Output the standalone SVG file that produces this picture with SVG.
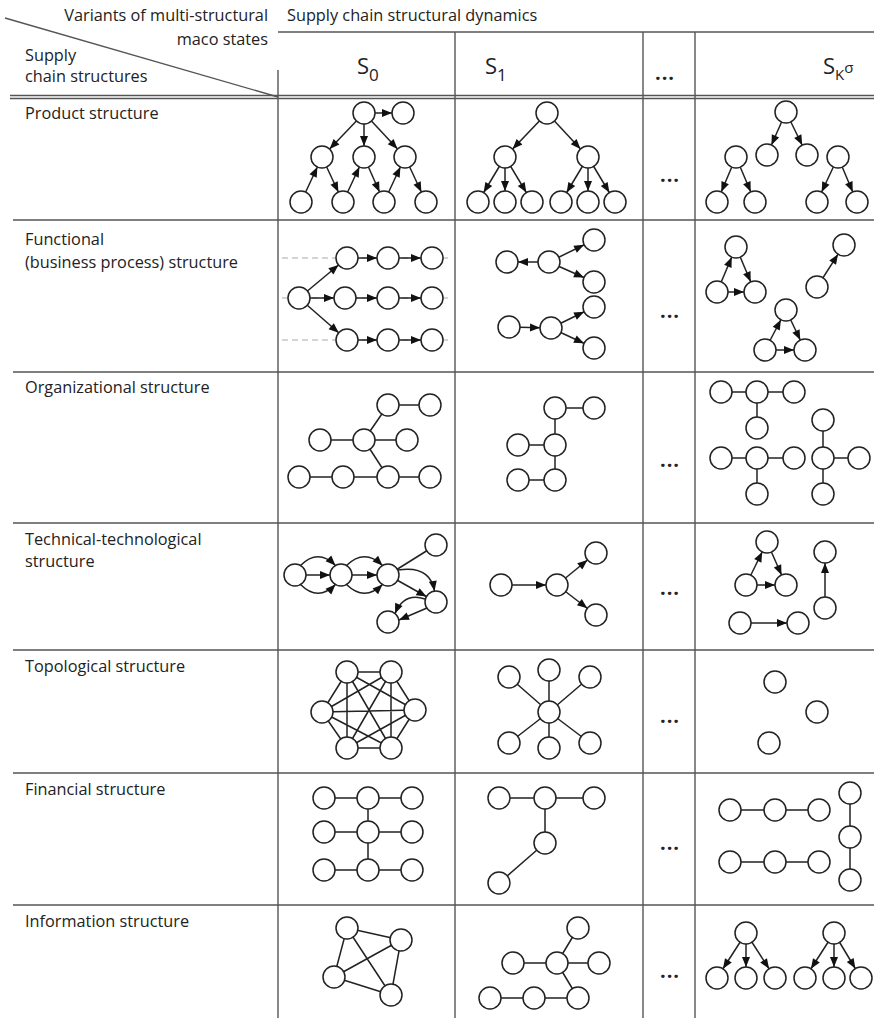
<svg xmlns="http://www.w3.org/2000/svg" width="874" height="1018" viewBox="0 0 874 1018">
<style>
.t{font-family:"Open Sans","Noto Sans",sans-serif;font-size:16.3px;fill:#222}
.s{font-family:"Open Sans","Noto Sans",sans-serif;font-size:22px;fill:#222}
.d{font-family:"Open Sans","Noto Sans",sans-serif;font-size:20px;font-weight:bold;fill:#222;letter-spacing:1px}
.g{stroke:#555;stroke-width:1.4;fill:none}
.e{stroke:#222;stroke-width:1.5;fill:none}
.a{marker-end:url(#an)}
.h{marker-end:url(#ah)}
.dash{stroke:#aaa;stroke-width:1.2;stroke-dasharray:6 4}
circle{fill:#fff;stroke:#222;stroke-width:1.5}
</style>
<defs>
<marker id="an" markerUnits="userSpaceOnUse" markerWidth="11" markerHeight="9" refX="21" refY="4" orient="auto" overflow="visible"><path d="M0,0 L10,4 L0,8 z" fill="#111"/></marker>
<marker id="ah" markerUnits="userSpaceOnUse" markerWidth="11" markerHeight="9" refX="10" refY="4" orient="auto" overflow="visible"><path d="M0,0 L10,4 L0,8 z" fill="#111"/></marker>
</defs>
<rect width="874" height="1018" fill="#fff"/>
<g id="table">
<line class="g" x1="278" y1="32" x2="874" y2="32"/>
<line class="g" x1="278" y1="70" x2="278" y2="1018"/>
<line class="g" x1="455" y1="32" x2="455" y2="1018"/>
<line class="g" x1="643" y1="32" x2="643" y2="1018"/>
<line class="g" x1="695" y1="32" x2="695" y2="1018"/>
<line class="g" x1="5" y1="18" x2="278" y2="97"/>
<line class="g" x1="10" y1="95.5" x2="874" y2="95.5"/>
<line class="g" x1="10" y1="98.5" x2="874" y2="98.5"/>
<line class="g" x1="13" y1="220" x2="874" y2="220"/>
<line class="g" x1="13" y1="372" x2="874" y2="372"/>
<line class="g" x1="13" y1="523" x2="874" y2="523"/>
<line class="g" x1="13" y1="650" x2="874" y2="650"/>
<line class="g" x1="13" y1="773" x2="874" y2="773"/>
<line class="g" x1="13" y1="905" x2="874" y2="905"/>
</g>
<g id="header">
<text class="t" x="268" y="21" text-anchor="end">Variants of multi-structural</text>
<text class="t" x="268" y="45" text-anchor="end">maco states</text>
<text class="t" x="25" y="61">Supply</text>
<text class="t" x="25" y="82">chain structures</text>
<text class="t" x="287" y="21">Supply chain structural dynamics</text>
<text class="s" x="357" y="74">S<tspan dy="7" font-size="17">0</tspan></text>
<text class="s" x="485" y="74">S<tspan dy="7" font-size="17">1</tspan></text>
<text class="d" x="665" y="80" text-anchor="middle">...</text>
<text class="s" x="823" y="74">S<tspan dy="6" font-size="15">K</tspan><tspan dy="-7" font-size="15">σ</tspan></text>
</g>
<g id="labels">
<text class="t" x="25" y="119">Product structure</text>
<text class="t" x="25" y="245">Functional</text>
<text class="t" x="25" y="268">(business process) structure</text>
<text class="t" x="25" y="393">Organizational structure</text>
<text class="t" x="25" y="545">Technical-technological</text>
<text class="t" x="25" y="567">structure</text>
<text class="t" x="25" y="672">Topological structure</text>
<text class="t" x="25" y="795">Financial structure</text>
<text class="t" x="25" y="927">Information structure</text>
</g>
<g id="dots">
<text class="d" x="670" y="182" text-anchor="middle">...</text>
<text class="d" x="670" y="318" text-anchor="middle">...</text>
<text class="d" x="670" y="467" text-anchor="middle">...</text>
<text class="d" x="670" y="595" text-anchor="middle">...</text>
<text class="d" x="670" y="723" text-anchor="middle">...</text>
<text class="d" x="670" y="850" text-anchor="middle">...</text>
<text class="d" x="670" y="978" text-anchor="middle">...</text>
</g>
<g id="connectors">
<g id="c-product">
<line class="e a" x1="364" y1="113" x2="403" y2="113"/>
<line class="e a" x1="364" y1="113" x2="322" y2="157"/>
<line class="e a" x1="364" y1="113" x2="364" y2="157"/>
<line class="e a" x1="364" y1="113" x2="405" y2="157"/>
<line class="e a" x1="301" y1="202" x2="322" y2="157"/>
<line class="e a" x1="322" y1="157" x2="343" y2="202"/>
<line class="e a" x1="343" y1="202" x2="364" y2="157"/>
<line class="e a" x1="364" y1="157" x2="384" y2="202"/>
<line class="e a" x1="384" y1="202" x2="405" y2="157"/>
<line class="e a" x1="405" y1="157" x2="426" y2="202"/>
<line class="e a" x1="547" y1="113" x2="505" y2="157"/>
<line class="e a" x1="547" y1="113" x2="588" y2="157"/>
<line class="e a" x1="505" y1="157" x2="478" y2="202"/>
<line class="e a" x1="505" y1="157" x2="505" y2="202"/>
<line class="e a" x1="505" y1="157" x2="532" y2="202"/>
<line class="e a" x1="588" y1="157" x2="561" y2="202"/>
<line class="e a" x1="588" y1="157" x2="588" y2="202"/>
<line class="e a" x1="588" y1="157" x2="615" y2="202"/>
<line class="e a" x1="786" y1="112" x2="767" y2="155"/>
<line class="e a" x1="786" y1="112" x2="807" y2="155"/>
<line class="e a" x1="736" y1="157" x2="717" y2="202"/>
<line class="e a" x1="736" y1="157" x2="755" y2="202"/>
<line class="e a" x1="838" y1="157" x2="817" y2="202"/>
<line class="e a" x1="838" y1="157" x2="857" y2="202"/>
</g>
<g id="c-functional">
<line class="dash" x1="282" y1="258" x2="452" y2="258"/>
<line class="dash" x1="282" y1="298" x2="452" y2="298"/>
<line class="dash" x1="282" y1="340" x2="452" y2="340"/>
<line class="e a" x1="299" y1="298" x2="347" y2="258"/>
<line class="e a" x1="299" y1="298" x2="345" y2="298"/>
<line class="e a" x1="299" y1="298" x2="347" y2="340"/>
<line class="e a" x1="347" y1="258" x2="388" y2="258"/>
<line class="e a" x1="388" y1="258" x2="432" y2="258"/>
<line class="e a" x1="345" y1="298" x2="388" y2="298"/>
<line class="e a" x1="388" y1="298" x2="432" y2="298"/>
<line class="e a" x1="347" y1="340" x2="388" y2="340"/>
<line class="e a" x1="388" y1="340" x2="432" y2="340"/>
<line class="e a" x1="549" y1="262" x2="507" y2="262"/>
<line class="e a" x1="549" y1="262" x2="594" y2="240"/>
<line class="e a" x1="549" y1="262" x2="594" y2="282"/>
<line class="e a" x1="509" y1="327" x2="551" y2="328"/>
<line class="e a" x1="551" y1="328" x2="594" y2="307"/>
<line class="e a" x1="551" y1="328" x2="594" y2="348"/>
<line class="e a" x1="717" y1="292" x2="736" y2="247"/>
<line class="e a" x1="736" y1="247" x2="755" y2="292"/>
<line class="e a" x1="717" y1="292" x2="755" y2="292"/>
<line class="e a" x1="817" y1="287" x2="844" y2="245"/>
<line class="e a" x1="765" y1="350" x2="786" y2="310"/>
<line class="e a" x1="786" y1="310" x2="805" y2="350"/>
<line class="e a" x1="765" y1="350" x2="805" y2="350"/>
</g>
<g id="c-organizational">
<line class="e" x1="388" y1="405" x2="430" y2="405"/>
<line class="e" x1="388" y1="405" x2="364" y2="440"/>
<line class="e" x1="320" y1="440" x2="407" y2="440"/>
<line class="e" x1="364" y1="440" x2="388" y2="477"/>
<line class="e" x1="299" y1="477" x2="430" y2="477"/>
<line class="e" x1="555" y1="408" x2="594" y2="408"/>
<line class="e" x1="555" y1="408" x2="555" y2="480"/>
<line class="e" x1="518" y1="445" x2="555" y2="445"/>
<line class="e" x1="518" y1="480" x2="555" y2="480"/>
<line class="e" x1="721" y1="392" x2="794" y2="392"/>
<line class="e" x1="757" y1="392" x2="757" y2="428"/>
<line class="e" x1="721" y1="458" x2="794" y2="458"/>
<line class="e" x1="757" y1="458" x2="757" y2="494"/>
<line class="e" x1="823" y1="420" x2="823" y2="494"/>
<line class="e" x1="823" y1="458" x2="859" y2="458"/>
</g>
<g id="c-technical">
<line class="e a" x1="295" y1="575" x2="341" y2="575"/>
<path class="e h" d="M300.5,565.5 Q318,548 335.5,565.5"/>
<path class="e h" d="M300.5,584.5 Q318,602 335.5,584.5"/>
<line class="e a" x1="341" y1="575" x2="388" y2="575"/>
<path class="e h" d="M346.5,565.5 Q364.5,548 382.5,565.5"/>
<path class="e h" d="M346.5,584.5 Q364.5,602 382.5,584.5"/>
<line class="e" x1="388" y1="575" x2="436" y2="545"/>
<line class="e a" x1="388" y1="575" x2="436" y2="602"/>
<path class="e h" d="M398,570 Q430,565 434.5,591"/>
<path class="e h" d="M425,599 Q404,592 395,613.6"/>
<path class="e h" d="M427,608 L399,620"/>
<line class="e a" x1="501" y1="585" x2="557" y2="585"/>
<line class="e a" x1="557" y1="585" x2="596" y2="553"/>
<line class="e a" x1="557" y1="585" x2="596" y2="615"/>
<line class="e a" x1="746" y1="585" x2="767" y2="542"/>
<line class="e a" x1="767" y1="542" x2="786" y2="585"/>
<line class="e a" x1="746" y1="585" x2="786" y2="585"/>
<line class="e a" x1="825" y1="608" x2="825" y2="552"/>
<line class="e a" x1="740" y1="623" x2="798" y2="623"/>
</g>
<g id="c-topological">
<path class="e" d="M347,672 L391,672 M347,672 L322,712 M347,672 L415,710 M347,672 L347,748 M347,672 L391,748 M391,672 L322,712 M391,672 L415,710 M391,672 L347,748 M391,672 L391,748 M322,712 L415,710 M322,712 L347,748 M322,712 L391,748 M415,710 L347,748 M415,710 L391,748 M347,748 L391,748"/>
<path class="e" d="M549,712 L509,677 M549,712 L549,670 M549,712 L590,677 M549,712 L509,743 M549,712 L549,748 M549,712 L590,743"/>
</g>
<g id="c-financial">
<path class="e" d="M324,798 L412,798 M324,832 L412,832 M324,870 L412,870 M368,798 L368,870"/>
<path class="e" d="M499,798 L594,798 M545,798 L545,843 L499,883"/>
<path class="e" d="M730,810 L819,810 M730,862 L819,862 M850,793 L850,880"/>
</g>
<g id="c-information">
<path class="e" d="M347,928 L401,940 M347,928 L334,977 M347,928 L391,995 M401,940 L334,977 M401,940 L391,995 M334,977 L391,995"/>
<path class="e" d="M578,928 L557,963 M513,963 L599,963 M557,963 L578,998 M490,998 L578,998"/>
<line class="e a" x1="746" y1="933" x2="717" y2="978"/>
<line class="e a" x1="746" y1="933" x2="746" y2="978"/>
<line class="e a" x1="746" y1="933" x2="775" y2="978"/>
<line class="e a" x1="834" y1="933" x2="805" y2="978"/>
<line class="e a" x1="834" y1="933" x2="834" y2="978"/>
<line class="e a" x1="834" y1="933" x2="861" y2="978"/>
</g>
</g>
<g id="n-product-s0"><circle cx="364" cy="113" r="11"/><circle cx="403" cy="113" r="11"/><circle cx="322" cy="157" r="11"/><circle cx="364" cy="157" r="11"/><circle cx="405" cy="157" r="11"/><circle cx="301" cy="202" r="11"/><circle cx="343" cy="202" r="11"/><circle cx="384" cy="202" r="11"/><circle cx="426" cy="202" r="11"/></g>
<g id="n-product-s1"><circle cx="547" cy="113" r="11"/><circle cx="505" cy="157" r="11"/><circle cx="588" cy="157" r="11"/><circle cx="478" cy="202" r="11"/><circle cx="505" cy="202" r="11"/><circle cx="532" cy="202" r="11"/><circle cx="561" cy="202" r="11"/><circle cx="588" cy="202" r="11"/><circle cx="615" cy="202" r="11"/></g>
<g id="n-product-sk"><circle cx="786" cy="112" r="11"/><circle cx="767" cy="155" r="11"/><circle cx="807" cy="155" r="11"/><circle cx="736" cy="157" r="11"/><circle cx="717" cy="202" r="11"/><circle cx="755" cy="202" r="11"/><circle cx="838" cy="157" r="11"/><circle cx="817" cy="202" r="11"/><circle cx="857" cy="202" r="11"/></g>
<g id="n-functional-s0"><circle cx="299" cy="298" r="11"/><circle cx="347" cy="258" r="11"/><circle cx="388" cy="258" r="11"/><circle cx="432" cy="258" r="11"/><circle cx="345" cy="298" r="11"/><circle cx="388" cy="298" r="11"/><circle cx="432" cy="298" r="11"/><circle cx="347" cy="340" r="11"/><circle cx="388" cy="340" r="11"/><circle cx="432" cy="340" r="11"/></g>
<g id="n-functional-s1"><circle cx="507" cy="262" r="11"/><circle cx="549" cy="262" r="11"/><circle cx="594" cy="240" r="11"/><circle cx="594" cy="282" r="11"/><circle cx="509" cy="327" r="11"/><circle cx="551" cy="328" r="11"/><circle cx="594" cy="307" r="11"/><circle cx="594" cy="348" r="11"/></g>
<g id="n-functional-sk"><circle cx="736" cy="247" r="11"/><circle cx="717" cy="292" r="11"/><circle cx="755" cy="292" r="11"/><circle cx="844" cy="245" r="11"/><circle cx="817" cy="287" r="11"/><circle cx="786" cy="310" r="11"/><circle cx="765" cy="350" r="11"/><circle cx="805" cy="350" r="11"/></g>
<g id="n-organizational-s0"><circle cx="388" cy="405" r="11"/><circle cx="430" cy="405" r="11"/><circle cx="320" cy="440" r="11"/><circle cx="364" cy="440" r="11"/><circle cx="407" cy="440" r="11"/><circle cx="299" cy="477" r="11"/><circle cx="343" cy="477" r="11"/><circle cx="388" cy="477" r="11"/><circle cx="430" cy="477" r="11"/></g>
<g id="n-organizational-s1"><circle cx="555" cy="408" r="11"/><circle cx="594" cy="408" r="11"/><circle cx="518" cy="445" r="11"/><circle cx="555" cy="445" r="11"/><circle cx="518" cy="480" r="11"/><circle cx="555" cy="480" r="11"/></g>
<g id="n-organizational-sk"><circle cx="721" cy="392" r="11"/><circle cx="757" cy="392" r="11"/><circle cx="794" cy="392" r="11"/><circle cx="757" cy="428" r="11"/><circle cx="721" cy="458" r="11"/><circle cx="757" cy="458" r="11"/><circle cx="794" cy="458" r="11"/><circle cx="757" cy="494" r="11"/><circle cx="823" cy="420" r="11"/><circle cx="823" cy="458" r="11"/><circle cx="859" cy="458" r="11"/><circle cx="823" cy="494" r="11"/></g>
<g id="n-technical-s0"><circle cx="295" cy="575" r="11"/><circle cx="341" cy="575" r="11"/><circle cx="388" cy="575" r="11"/><circle cx="436" cy="545" r="11"/><circle cx="436" cy="602" r="11"/><circle cx="388" cy="622" r="11"/></g>
<g id="n-technical-s1"><circle cx="501" cy="585" r="11"/><circle cx="557" cy="585" r="11"/><circle cx="596" cy="553" r="11"/><circle cx="596" cy="615" r="11"/></g>
<g id="n-technical-sk"><circle cx="767" cy="542" r="11"/><circle cx="746" cy="585" r="11"/><circle cx="786" cy="585" r="11"/><circle cx="825" cy="552" r="11"/><circle cx="825" cy="608" r="11"/><circle cx="740" cy="623" r="11"/><circle cx="798" cy="623" r="11"/></g>
<g id="n-topological-s0"><circle cx="347" cy="672" r="11"/><circle cx="391" cy="672" r="11"/><circle cx="322" cy="712" r="11"/><circle cx="415" cy="710" r="11"/><circle cx="347" cy="748" r="11"/><circle cx="391" cy="748" r="11"/></g>
<g id="n-topological-s1"><circle cx="549" cy="712" r="11"/><circle cx="509" cy="677" r="11"/><circle cx="549" cy="670" r="11"/><circle cx="590" cy="677" r="11"/><circle cx="509" cy="743" r="11"/><circle cx="549" cy="748" r="11"/><circle cx="590" cy="743" r="11"/></g>
<g id="n-topological-sk"><circle cx="775" cy="682" r="11"/><circle cx="817" cy="712" r="11"/><circle cx="769" cy="743" r="11"/></g>
<g id="n-financial-s0"><circle cx="324" cy="798" r="11"/><circle cx="368" cy="798" r="11"/><circle cx="412" cy="798" r="11"/><circle cx="324" cy="832" r="11"/><circle cx="368" cy="832" r="11"/><circle cx="412" cy="832" r="11"/><circle cx="324" cy="870" r="11"/><circle cx="368" cy="870" r="11"/><circle cx="412" cy="870" r="11"/></g>
<g id="n-financial-s1"><circle cx="499" cy="798" r="11"/><circle cx="545" cy="798" r="11"/><circle cx="594" cy="798" r="11"/><circle cx="545" cy="843" r="11"/><circle cx="499" cy="883" r="11"/></g>
<g id="n-financial-sk"><circle cx="730" cy="810" r="11"/><circle cx="775" cy="810" r="11"/><circle cx="819" cy="810" r="11"/><circle cx="730" cy="862" r="11"/><circle cx="775" cy="862" r="11"/><circle cx="819" cy="862" r="11"/><circle cx="850" cy="793" r="11"/><circle cx="850" cy="837" r="11"/><circle cx="850" cy="880" r="11"/></g>
<g id="n-information-s0"><circle cx="347" cy="928" r="11"/><circle cx="401" cy="940" r="11"/><circle cx="334" cy="977" r="11"/><circle cx="391" cy="995" r="11"/></g>
<g id="n-information-s1"><circle cx="578" cy="928" r="11"/><circle cx="513" cy="963" r="11"/><circle cx="557" cy="963" r="11"/><circle cx="599" cy="963" r="11"/><circle cx="490" cy="998" r="11"/><circle cx="534" cy="998" r="11"/><circle cx="578" cy="998" r="11"/></g>
<g id="n-information-sk"><circle cx="746" cy="933" r="11"/><circle cx="717" cy="978" r="11"/><circle cx="746" cy="978" r="11"/><circle cx="775" cy="978" r="11"/><circle cx="834" cy="933" r="11"/><circle cx="805" cy="978" r="11"/><circle cx="834" cy="978" r="11"/><circle cx="861" cy="978" r="11"/></g>
</svg>
